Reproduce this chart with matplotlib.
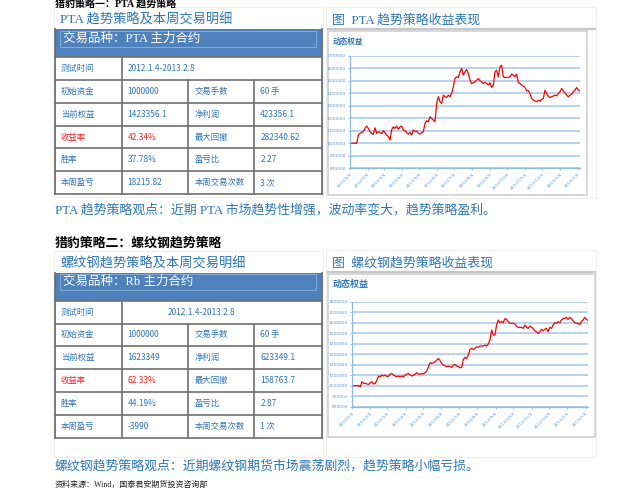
import matplotlib
matplotlib.use("Agg")
import matplotlib.pyplot as plt
import matplotlib.patches as patches
from matplotlib.lines import Line2D
from matplotlib.ticker import FuncFormatter
import pandas as pd

# ---- data ----
pta_header = "交易品种：PTA 主力合约"
pta_rows = [
    ("测试时间", "2012.1.4-2013.2.8", None, None),
    ("初始资金", "1000000", "交易手数", "60 手"),
    ("当前权益", "1423356.1", "净利润", "423356.1"),
    ("收益率", "42.34%", "最大回撤", "282340.62"),
    ("胜率", "37.78%", "盈亏比", "2.27"),
    ("本周盈亏", "18215.82", "本周交易次数", "3 次"),
]
rb_header = "交易品种：Rb 主力合约"
rb_rows = [
    ("测试时间", "2012.1.4-2013.2.8", None, None),
    ("初始资金", "1000000", "交易手数", "60 手"),
    ("当前权益", "1623349", "净利润", "623349.1"),
    ("收益率", "62.33%", "最大回撤", "158763.7"),
    ("胜率", "44.19%", "盈亏比", "2.87"),
    ("本周盈亏", "-3990", "本周交易次数", "1 次"),
]

# dynamic equity, in thousands, sampled evenly from 2012-01-04 to 2013-02-08
pta_equity = [
    1000, 1000, 1000, 1000, 1000, 1066, 1079, 1087, 1093, 1119,
    1138, 1119, 1093, 1079, 1071, 1124, 1079, 1093, 1085, 1079,
    1101, 1085, 1066, 1053, 1026, 1106, 1132, 1119, 1138, 1111,
    1132, 1138, 1106, 1101, 1085, 1074, 1087, 1066, 1106, 1093,
    1099, 1079, 1074, 1085, 1093, 1159, 1180, 1172, 1212, 1199,
    1186, 1172, 1319, 1372, 1332, 1319, 1385, 1372, 1366, 1385,
    1372, 1398, 1452, 1518, 1531, 1526, 1571, 1598, 1545, 1571,
    1590, 1558, 1505, 1478, 1484, 1491, 1505, 1518, 1499, 1491,
    1478, 1486, 1478, 1465, 1484, 1446, 1465, 1571, 1585, 1531,
    1611, 1624, 1531, 1526, 1526, 1526, 1531, 1553, 1545, 1531,
    1553, 1484, 1478, 1465, 1457, 1446, 1420, 1420, 1398, 1359,
    1345, 1337, 1332, 1345, 1337, 1351, 1359, 1425, 1398, 1377,
    1366, 1372, 1377, 1385, 1380, 1398, 1412, 1438, 1420, 1404,
    1385, 1372, 1385, 1392, 1412, 1425, 1446, 1425, 1420,
]
rb_equity = [
    1000, 1000, 1000, 1000, 1000, 990, 1038, 1022, 1022, 1016,
    1013, 1029, 1038, 1016, 1022, 1054, 1092, 1086, 1102, 1092,
    1102, 1086, 1092, 1111, 1117, 1102, 1092, 1086, 1092, 1086,
    1092, 1086, 1102, 1111, 1117, 1102, 1092, 1102, 1111, 1124,
    1111, 1108, 1117, 1111, 1124, 1143, 1181, 1219, 1213, 1219,
    1229, 1244, 1260, 1238, 1213, 1197, 1187, 1181, 1187, 1181,
    1175, 1197, 1203, 1187, 1181, 1171, 1175, 1251, 1270, 1260,
    1292, 1346, 1356, 1346, 1356, 1371, 1365, 1378, 1378, 1378,
    1387, 1378, 1397, 1435, 1530, 1483, 1483, 1578, 1625, 1600,
    1610, 1600, 1638, 1632, 1610, 1594, 1594, 1594, 1587, 1568,
    1556, 1556, 1556, 1546, 1578, 1556, 1546, 1568, 1556, 1546,
    1524, 1514, 1498, 1514, 1537, 1524, 1537, 1546, 1514, 1556,
    1546, 1578, 1600, 1594, 1610, 1600, 1625, 1641, 1641, 1651,
    1632, 1651, 1641, 1619, 1600, 1594, 1594, 1581, 1610, 1625,
    1651, 1632, 1623,
]

W, H = 644, 500
BLUE = "#2e75b6"
CJK = ["Noto Sans CJK SC", "DejaVu Sans"]
SERIF_CJK = ["Liberation Serif", "Noto Sans CJK SC", "DejaVu Sans"]

fig = plt.figure(figsize=(W / 100, H / 100), dpi=100)
fig.patch.set_facecolor("white")


def fx(x):
    return x / W


def fy(y):
    return 1 - y / H


def hline(x0, x1, y, color, lw):
    fig.add_artist(Line2D([fx(x0), fx(x1)], [fy(y), fy(y)], transform=fig.transFigure, color=color, lw=lw))


def vline(x, y0, y1, color, lw):
    fig.add_artist(Line2D([fx(x), fx(x)], [fy(y0), fy(y1)], transform=fig.transFigure, color=color, lw=lw))


def box(x0, y0, x1, y1, face="none", edge="#d9d9d9", lw=1.0, z=0):
    fig.add_artist(patches.Rectangle((fx(x0), fy(y1)), fx(x1) - fx(x0), (y1 - y0) / H,
                                     transform=fig.transFigure, facecolor=face, edgecolor=edge, lw=lw, zorder=z))


def text(x, y, s, size, color=BLUE, family=CJK, weight="normal", ha="left"):
    fig.text(fx(x), fy(y), s, fontsize=size, color=color, family=family, fontweight=weight, ha=ha, va="center")


def draw_table(top, title, header, rows, date_x, panel_bottom):
    cols = [55, 121.5, 188.3, 254.3, 321.5]
    head_h, row_h = 28, 22.8
    box(54, top - 22, 323, panel_bottom, edge="#efefef", lw=0.8)
    text(60, top - 9, title, 9.5, family=SERIF_CJK)
    # blue header band
    box(cols[0], top, cols[-1], top + head_h, face="#4f81bd", edge="none")
    box(60, top + 1.5, 316, top + 17.5, edge="#8fb3de", lw=0.6)
    text(63, top + 9, header, 9, color="white", family=SERIF_CJK)
    y0 = top + head_h
    bottom = y0 + row_h * 6
    for i in range(7):
        hline(cols[0], cols[-1], y0 + i * row_h, "#6f6f6f", 1.2)
    vline(cols[0], top, bottom, "#6f6f6f", 1.3)
    vline(cols[-1], top, bottom, "#6f6f6f", 1.3)
    vline(cols[1], y0, bottom, "#6f6f6f", 1.2)
    vline(cols[2], y0 + row_h, bottom, "#6f6f6f", 1.2)
    vline(cols[3], y0 + row_h, bottom, "#6f6f6f", 1.2)
    for i, (a, b, c, d) in enumerate(rows):
        yc = y0 + row_h * (i + 0.5)
        color = "#ff2020" if a == "收益率" else BLUE
        text(cols[0] + 6, yc, a, 6, color=color)
        text(date_x if c is None else cols[1] + 6, yc, b, 6, color=color)
        if c is not None:
            text(cols[2] + 6, yc, c, 6)
            text(cols[3] + 6, yc, d, 6)


def draw_chart(top, title, box_right, box_bottom, panel_bottom, plot_box, values, ymax, label_size):
    box(326, top - 22, 596, panel_bottom, edge="#efefef", lw=0.8)
    text(332, top - 9, title, 9.3, family=SERIF_CJK)
    hline(328, 595, top, "#c8c8c8", 1.5)
    box(328, top + 2, box_right, box_bottom, edge="#d4d4d4", lw=1.3)
    text(333, top + 12.5, "动态权益", label_size, weight="bold")

    left, ptop, right, pbottom = plot_box
    ax = fig.add_axes([fx(left), fy(pbottom), (right - left) / W, (pbottom - ptop) / H])
    dates = pd.date_range("2012-01-04", "2013-02-08", periods=len(values))
    ax.plot(dates, [v * 1000 for v in values], color="#ff0000", lw=0.9)
    ax.set_xlim(pd.Timestamp("2012-01-04"), pd.Timestamp("2013-02-08"))
    ax.set_ylim(800000, ymax)
    ax.set_yticks(range(800000, ymax + 1, 100000))
    ax.yaxis.set_major_formatter(FuncFormatter(lambda v, p: f"{int(v)}"))
    ticks = pd.date_range("2012-01-01", periods=14, freq="MS") + pd.Timedelta(days=3)
    ax.set_xticks(ticks)
    ax.set_xticklabels([f"{d.year}/{d.month}/{d.day}" for d in ticks], rotation=45, ha="right",
                       rotation_mode="anchor")
    ax.yaxis.grid(True, color="#a9cce9", lw=1.2)
    ax.set_axisbelow(True)
    for side in ["top", "right"]:
        ax.spines[side].set_visible(False)
    for side in ["left", "bottom"]:
        ax.spines[side].set_color("#8dbbe3")
        ax.spines[side].set_linewidth(0.9)
    ax.tick_params(axis="both", length=1.5, width=0.6, color="#8dbbe3", labelsize=3.2,
                   labelcolor="#5b9bd5", pad=1.5)
    return ax


# ---- headings ----
text(55, 4.6, "猎豹策略一：PTA 趋势策略", 7.2, color="black", family=SERIF_CJK, weight="bold")
text(55, 243, "猎豹策略二：螺纹钢趋势策略", 9.3, color="black", family=SERIF_CJK, weight="bold")

# ---- PTA block ----
draw_table(29.3, "PTA 趋势策略及本周交易明细", pta_header, pta_rows, 128, 197)
draw_chart(29.3, "图  PTA 趋势策略收益表现", 587, 195, 197.5, (350, 55.7, 580, 168.3), pta_equity, 1700000, 5.5)
text(55, 210, "PTA 趋势策略观点：近期 PTA 市场趋势性增强，波动率变大，趋势策略盈利。", 9.3,
     family=SERIF_CJK)

# ---- Rb block ----
draw_table(272.7, "螺纹钢趋势策略及本周交易明细", rb_header, rb_rows, 168, 457)
draw_chart(272.3, "图  螺纹钢趋势策略收益表现", 595, 437, 457, (352, 301.7, 588, 406.7), rb_equity, 1800000, 6.5)
text(55, 466, "螺纹钢趋势策略观点：近期螺纹钢期货市场震荡剧烈，趋势策略小幅亏损。", 9.3,
     family=SERIF_CJK)
text(55, 485, "资料来源：Wind，国泰君安期货投资咨询部", 5.8, color="#222222", family=SERIF_CJK)

fig.savefig("out.png", dpi=100)
